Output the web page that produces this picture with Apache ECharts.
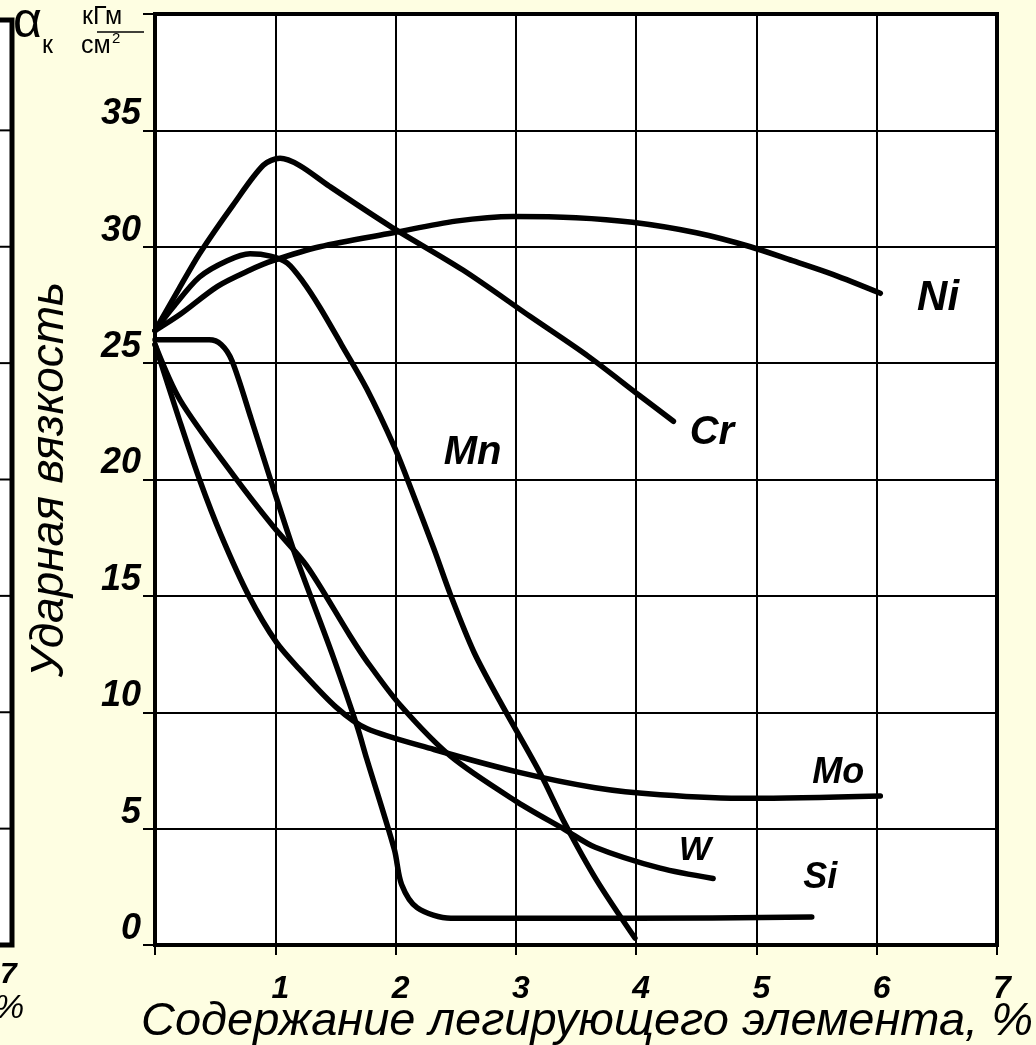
<!DOCTYPE html>
<html>
<head>
<meta charset="utf-8">
<script src="https://cdn.jsdelivr.net/npm/echarts@6/dist/echarts.min.js"></script>
<style>
html,body{margin:0;padding:0;background:#FEFEE2;}
#chart{width:1036px;height:1045px;}
</style>
</head>
<body>
<div id="chart"></div>
<script>
// ---- data (x: alloying element content, %; y: impact toughness, kGm/cm2) ----
var niData = [[0,26.4],[0.21,27.1],[0.52,28.3],[0.79,29.0],[0.98,29.4],[1.37,30.0],[1.98,30.6],[2.5,31.1],[2.98,31.3],[3.5,31.25],[3.97,31.05],[4.5,30.6],[4.95,30.0],[5.3,29.4],[5.64,28.8],[6.03,28.0]];
var crData = [[0,26.4],[0.2,28.2],[0.37,29.7],[0.65,31.8],[0.9,33.5],[1.04,33.8],[1.2,33.5],[1.45,32.6],[1.95,30.9],[2.56,29.0],[3.12,27.0],[3.6,25.3],[4.03,23.6],[4.31,22.5]];
var mnData = [[0,26.4],[0.15,27.4],[0.37,28.7],[0.6,29.4],[0.79,29.7],[0.96,29.6],[1.1,29.3],[1.23,28.5],[1.37,27.4],[1.55,25.8],[1.76,23.9],[1.99,21.4],[2.125,19.65],[2.32,17.0],[2.46,15.0],[2.65,12.6],[2.875,10.4],[3.2,7.4],[3.41,5.2],[3.67,2.8],[3.99,0.3]];
var moData = [[0,25.8],[0.2,22.6],[0.37,20.0],[0.55,17.6],[0.78,15.0],[1.01,13.0],[1.21,11.8],[1.51,10.2],[1.76,9.3],[2.32,8.4],[3.01,7.44],[3.66,6.76],[4.2,6.46],[4.95,6.3],[6.03,6.4]];
var wData = [[0,25.8],[0.21,23.4],[0.65,20.2],[0.98,18.0],[1.26,16.3],[1.62,13.3],[1.76,12.2],[2.04,10.3],[2.46,8.1],[3.01,6.15],[3.41,4.95],[3.66,4.2],[4.2,3.3],[4.64,2.86]];
var siData = [[0,26.0],[0.1,26.0],[0.45,26.0],[0.55,25.8],[0.64,25.1],[0.8,22.6],[0.96,20.0],[1.15,17.0],[1.3,14.9],[1.48,12.4],[1.68,9.4],[1.76,8.0],[1.99,4.1],[2.05,2.6],[2.18,1.6],[2.46,1.15],[2.87,1.15],[4.0,1.15],[5.46,1.2]];

var seriesNames = ['Ni','Cr','Mn','Mo','W','Si'];
var labelPos = [[6.51,27.8],[4.63,22.0],[2.64,21.15],[5.68,7.39],[4.49,4.06],[5.53,2.86]];
var labelSizes = [42,40,40,36,34,36];
var xTicks = ['', '1', '2', '3', '4', '5', '6', '7'];
var yTicks = ['0','5','10','15','20','25','30','35',''];
var xTitle = 'Содержание легирующего элемента, %';
var yTitle = 'Ударная вязкость';

var allData = [niData, crData, mnData, moData, wData, siData];

var chart = echarts.init(document.getElementById('chart'), null, {renderer:'canvas'});

var series = allData.map(function(d, i){
  return {
    name: seriesNames[i], type:'line', data:d, smooth:0.3, symbol:'none',
    lineStyle:{color:'#000', width:5.5, cap:'round', join:'round'},
    z: 3,
    markPoint:{
      symbol:'circle', symbolSize:0, silent:true,
      label:{show:true, position:'inside', formatter:seriesNames[i], fontSize:labelSizes[i],
             fontFamily:'Liberation Sans', fontStyle:'italic', fontWeight:'bold', color:'#000'},
      data:[{coord:labelPos[i]}]
    }
  };
});

chart.setOption({
  backgroundColor:'#FEFEE2',
  animation:false,
  grid:{left:155, right:39, top:14, bottom:100, containLabel:false, outerBoundsMode:'none',
        show:true, backgroundColor:'#ffffff', borderColor:'#000', borderWidth:4},
  xAxis:{
    type:'value', min:0, max:7, interval:1,
    axisLine:{show:false},
    axisTick:{show:true, length:10, lineStyle:{color:'#000', width:2}},
    splitLine:{show:true, lineStyle:{color:'#000', width:2}},
    axisLabel:{formatter:function(v){return xTicks[Math.round(v)];}, margin:28, fontSize:32,
      fontFamily:'Liberation Sans', fontStyle:'italic', fontWeight:'bold', color:'#000', padding:[0,0,0,10]},
    name:xTitle, nameLocation:'middle', nameGap:53, nameMoveOverlap:false,
    nameTextStyle:{fontFamily:'Liberation Sans', fontStyle:'italic', fontSize:47, color:'#000', padding:[0,0,0,22], verticalAlign:'top'}
  },
  yAxis:{
    type:'value', min:0, max:40, interval:5,
    axisLine:{show:false},
    axisTick:{show:true, length:12, lineStyle:{color:'#000', width:2}},
    splitLine:{show:true, lineStyle:{color:'#000', width:2}},
    axisLabel:{formatter:function(v){return yTicks[Math.round(v/5)];}, margin:14, fontSize:36,
      fontFamily:'Liberation Sans', fontStyle:'italic', fontWeight:'bold', color:'#000', verticalAlign:'bottom', lineHeight:32},
    name:yTitle, nameLocation:'middle', nameGap:105, nameRotate:90, nameMoveOverlap:false,
    nameTextStyle:{fontFamily:'Liberation Sans', fontStyle:'italic', fontSize:46, color:'#000', verticalAlign:'middle'}
  },
  series: series
});

// decorations: unit label top-left and the clipped neighbouring chart edge at the far left
var gfx = [
  {type:'text', left:13, top:-2, style:{text:'α', font:'50px "Liberation Sans"', fill:'#000'}},
  {type:'text', left:42, top:34, style:{text:'к', font:'25px "Liberation Sans"', fill:'#000'}},
  {type:'text', left:82, top:5, style:{text:'кГм', font:'25px "Liberation Sans"', fill:'#000'}},
  {type:'line', shape:{x1:97, y1:32, x2:144, y2:32}, style:{stroke:'#000', lineWidth:1.5}},
  {type:'text', left:81, top:34, style:{text:'см', font:'25px "Liberation Sans"', fill:'#000'}},
  {type:'text', left:112, top:31, style:{text:'2', font:'15px "Liberation Sans"', fill:'#000'}},
  {type:'rect', shape:{x:0, y:20, width:12, height:925}, style:{fill:'#fff'}},
  {type:'polyline', shape:{points:[[0,20],[12,20],[12,945],[0,945]]}, style:{stroke:'#000', lineWidth:5, fill:null}},
  {type:'text', left:0, top:960, style:{text:'7', font:'italic bold 30px "Liberation Sans"', fill:'#000'}},
  {type:'text', left:-6, top:992, style:{text:'%', font:'italic 34px "Liberation Sans"', fill:'#000'}}
];
for (var k = 1; k <= 7; k++) {
  var py = chart.convertToPixel({yAxisIndex:0}, k*5);
  gfx.push({type:'line', shape:{x1:0, y1:py, x2:12, y2:py}, style:{stroke:'#000', lineWidth:2}});
}
chart.setOption({graphic:gfx});
</script>
</body>
</html>
